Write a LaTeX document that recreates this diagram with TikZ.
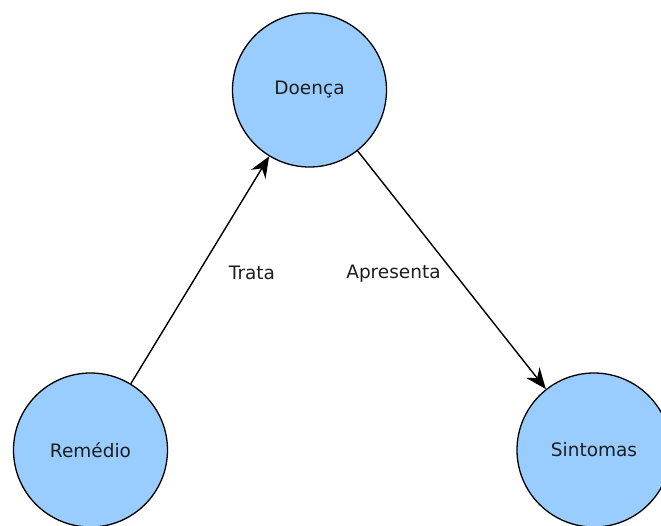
\documentclass[tikz,border=0pt]{standalone}
\usepackage{fontspec}
\setmainfont{DejaVu Sans}
\usetikzlibrary{arrows.meta}
\definecolor{nodeblue}{HTML}{99CCFF}
\definecolor{inkgray}{HTML}{1E1E1E}
\begin{document}
\begin{tikzpicture}[x=1pt,y=-1pt,
  concept/.style={circle, draw=black, line width=1.3pt, fill=nodeblue,
    minimum size=154pt, inner sep=0pt, font=\fontsize{18.5}{22}\selectfont, text=inkgray},
  relation/.style={draw=black, line width=1.4pt, -{Stealth[length=21pt,width=17pt,inset=7pt]}},
  relabel/.style={font=\fontsize{18.5}{22}\selectfont, text=inkgray, inner sep=0pt}]
  \useasboundingbox (0,0) rectangle (661,525);
  \begin{scope}
    \clip (0,0) rectangle (661,525);
    \node[concept] (doenca) at (309.5,90) {Doença};
    \node[concept] (remedio) at (90.5,450) {Remédio};
    \node[concept] (sintomas) at (594,450) {Sintomas};
    \draw[relation] (remedio) -- (doenca);
    \draw[relation] (doenca) -- (sintomas);
    \node[relabel] (trata) at (252,273) {Trata};
    \node[relabel] (apresenta) at (393.5,274) {Apresenta};
  \end{scope}
\end{tikzpicture}
\end{document}
